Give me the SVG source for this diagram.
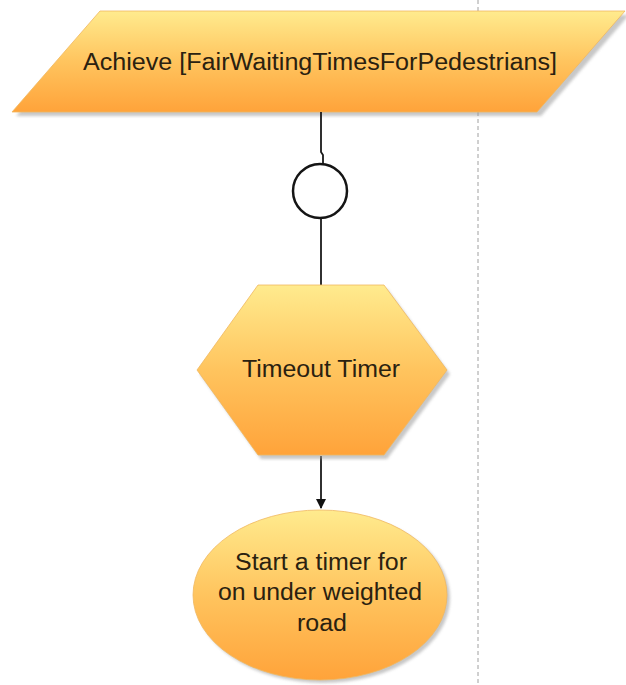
<svg xmlns="http://www.w3.org/2000/svg" width="626" height="685" viewBox="0 0 626 685">
<defs>
<linearGradient id="gOrange" x1="0" y1="0" x2="0" y2="1">
<stop offset="0" stop-color="#FFEB8E"/>
<stop offset="0.5" stop-color="#FFC45E"/>
<stop offset="1" stop-color="#FFA33A"/>
</linearGradient>
<filter id="shadow" x="-10%" y="-10%" width="130%" height="130%">
<feGaussianBlur stdDeviation="1.5"/>
</filter>
<marker id="arrow" viewBox="0 0 10 10" refX="9" refY="5" markerWidth="10" markerHeight="10" markerUnits="userSpaceOnUse" orient="auto">
<path d="M0,0 L10,5 L0,10 z" fill="#111"/>
</marker>
</defs>
<style>
.shape{fill:url(#gOrange);stroke:#F0B860;stroke-width:0.8}
.shd{fill:#9a9a9a;opacity:0.55;filter:url(#shadow)}
.lbl{font-family:"Liberation Sans",Arial,sans-serif;font-size:23px;fill:#2a2110;text-anchor:middle}
.conn{fill:none;stroke:#1a1a1a;stroke-width:1.8}
</style>
<rect width="626" height="685" fill="#ffffff"/>
<line x1="478" y1="0" x2="478" y2="685" stroke="#a0a0a0" stroke-width="1" stroke-dasharray="4,3"/>

<g id="goal">
<polygon class="shd" points="104,15 629,15 541,116 16,116"/>
<polygon class="shape" points="100,11 625,11 537,112 12,112"/>
<text class="lbl" x="320" y="70" textLength="474" lengthAdjust="spacingAndGlyphs">Achieve [FairWaitingTimesForPedestrians]</text>
</g>

<g id="connectors">
<polyline class="conn" points="321,112 321,152 323,155 323,164"/>
<line class="conn" x1="321" y1="218" x2="321" y2="285"/>
<line class="conn" x1="321" y1="456" x2="321" y2="508" marker-end="url(#arrow)"/>
</g>

<g id="refinement">
<circle cx="320" cy="191" r="27" fill="#ffffff" stroke="#151515" stroke-width="2.5"/>
</g>

<g id="timer">
<polygon class="shd" points="261,289 387,289 450,374 387,459 261,459 200,374"/>
<polygon class="shape" points="258,285 384,285 447,370 384,455 258,455 197,370"/>
<text class="lbl" x="321" y="377" textLength="158" lengthAdjust="spacingAndGlyphs">Timeout Timer</text>
</g>

<g id="action">
<ellipse class="shd" cx="323" cy="598" rx="127" ry="85"/>
<ellipse class="shape" cx="320" cy="595" rx="127" ry="85"/>
<text class="lbl" x="321" y="570" textLength="172" lengthAdjust="spacingAndGlyphs">Start a timer for</text>
<text class="lbl" x="320" y="600" textLength="204" lengthAdjust="spacingAndGlyphs">on under weighted</text>
<text class="lbl" x="322" y="631" textLength="50" lengthAdjust="spacingAndGlyphs">road</text>
</g>
</svg>
